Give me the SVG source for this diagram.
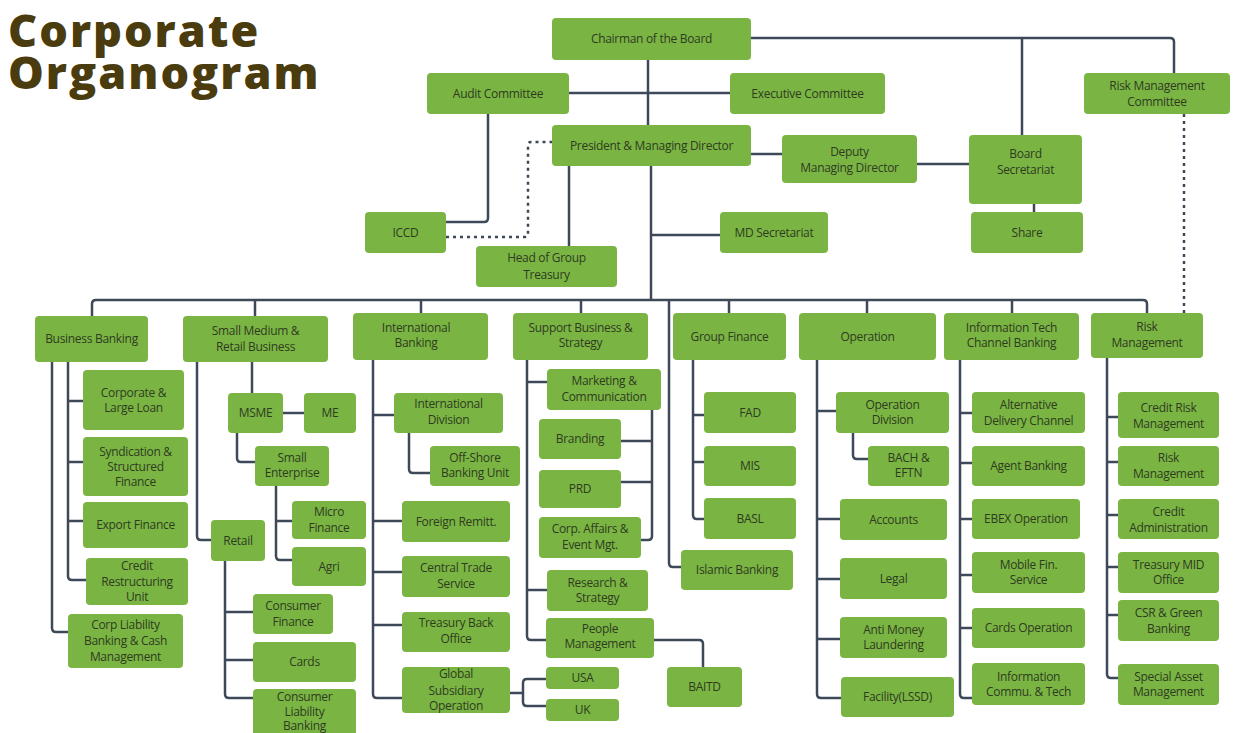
<svg xmlns="http://www.w3.org/2000/svg" width="1239" height="733" viewBox="0 0 1239 733">
<style>
.b{fill:#7ab544;}
.t{font-family:"Open Sans","Liberation Sans",sans-serif;font-size:12px;fill:#2f3b1f;text-anchor:middle;letter-spacing:-0.3px;}
.c{fill:none;stroke:#3d4858;stroke-width:2.5;stroke-linejoin:round;}
.d{fill:none;stroke:#3d4858;stroke-width:2.5;stroke-dasharray:3 4;}
.title{font-family:"Open Sans","Liberation Sans",sans-serif;font-weight:800;font-size:45px;fill:#4a3c0e;letter-spacing:2px;}
</style>
<rect width="1239" height="733" fill="#ffffff"/>
<g id="title">
<text class="title" x="8" y="47">Corporate</text>
<text class="title" x="8" y="89">Organogram</text>
</g>
<g id="connectors">
<path class="c" d="M648,60 V125"/>
<path class="c" d="M569,93 H730"/>
<path class="c" d="M751,38 H1170 q4,0 4,4 V73"/>
<path class="c" d="M1022,38 V135"/>
<path class="c" d="M751,154 H782"/>
<path class="c" d="M917,164 H969"/>
<path class="c" d="M1034,204 V212"/>
<path class="c" d="M488,114 V218 q0,4 -4,4 H446"/>
<path class="d" d="M446,237 H525 q3,0 3,-3 V145 q0,-3 3,-3 H552"/>
<path class="d" d="M1184,114 V313"/>
<path class="c" d="M569,166 V246"/>
<path class="c" d="M651,166 V300"/>
<path class="c" d="M651,235 H720"/>
<path class="c" d="M92,316 V304 q0,-4 4,-4 H1143 q4,0 4,4 V313"/>
<path class="c" d="M255,300 V316 M421,300 V313 M581,300 V313 M729,300 V313 M867,300 V313 M1012,300 V313"/>
<path class="c" d="M669,300 V563 q0,4 4,4 H681"/>
<path class="c" d="M52,362 V628 q0,4 4,4 H68"/>
<path class="c" d="M68,362 V576 q0,4 4,4 H86"/>
<path class="c" d="M68,401 H83 M68,462 H83 M68,521 H83"/>
<path class="c" d="M197,362 V536 q0,4 4,4 H211"/>
<path class="c" d="M252,362 V393"/>
<path class="c" d="M283,413 H304"/>
<path class="c" d="M237,433 V458 q0,4 4,4 H255"/>
<path class="c" d="M276,486 V556 q0,4 4,4 H292 M276,521 H292"/>
<path class="c" d="M225,561 V694 q0,4 4,4 H253 M225,612 H253 M225,660 H253"/>
<path class="c" d="M373,360 V694 q0,4 4,4 H402"/>
<path class="c" d="M373,415 H394 M373,521 H402 M373,572 H402 M373,625 H402"/>
<path class="c" d="M409,433 V469 q0,4 4,4 H430"/>
<path class="c" d="M510,693 H523 M546,679 H527 q-4,0 -4,4 V702 q0,4 4,4 H546"/>
<path class="c" d="M527,360 V636 q0,4 4,4 H546 M527,382 H547 M527,590 H547"/>
<path class="c" d="M652,410 V536 q0,4 -4,4 H641 M621,441 H652 M621,482 H652"/>
<path class="c" d="M654,640 H699 q4,0 4,4 V667"/>
<path class="c" d="M693,360 V515 q0,4 4,4 H704 M693,415 H704 M693,462 H704"/>
<path class="c" d="M817,360 V694 q0,4 4,4 H841 M817,411 H836 M817,519 H840 M817,579 H840 M817,639 H840"/>
<path class="c" d="M853,433 V455 q0,4 4,4 H868"/>
<path class="c" d="M960,360 V694 q0,4 4,4 H972 M960,413 H972 M960,463 H972 M960,519 H972 M960,575 H972 M960,628 H972"/>
<path class="c" d="M1107,358 V674 q0,4 4,4 H1118 M1107,417 H1118 M1107,462 H1118 M1107,515 H1118 M1107,567 H1118 M1107,615 H1118"/>
</g>
<g id="chairman"><rect class="b" x="552" y="18" width="199" height="42" rx="4"/><text class="t" x="651.5" y="43">Chairman of the Board</text></g>
<g id="audit"><rect class="b" x="427" y="73" width="142" height="41" rx="4"/><text class="t" x="498" y="97.5">Audit Committee</text></g>
<g id="executive"><rect class="b" x="730" y="73" width="155" height="41" rx="4"/><text class="t" x="807.5" y="97.5">Executive Committee</text></g>
<g id="rmc"><rect class="b" x="1084" y="73" width="146" height="41" rx="4"/><text class="t" x="1157" y="90">Risk Management</text><text class="t" x="1157" y="106">Committee</text></g>
<g id="president"><rect class="b" x="552" y="125" width="199" height="41" rx="4"/><text class="t" x="651.5" y="149.5">President &amp; Managing Director</text></g>
<g id="deputy"><rect class="b" x="782" y="135" width="135" height="48" rx="4"/><text class="t" x="849.5" y="156">Deputy</text><text class="t" x="849.5" y="172">Managing Director</text></g>
<g id="board"><rect class="b" x="969" y="135" width="113" height="69" rx="4"/><text class="t" x="1025.5" y="158">Board</text><text class="t" x="1025.5" y="174">Secretariat</text></g>
<g id="share"><rect class="b" x="971" y="212" width="112" height="41" rx="4"/><text class="t" x="1027" y="236.5">Share</text></g>
<g id="iccd"><rect class="b" x="365" y="212" width="81" height="41" rx="4"/><text class="t" x="405.5" y="236.5">ICCD</text></g>
<g id="mdsec"><rect class="b" x="720" y="212" width="108" height="41" rx="4"/><text class="t" x="774" y="236.5">MD Secretariat</text></g>
<g id="treasury"><rect class="b" x="476" y="246" width="141" height="41" rx="4"/><text class="t" x="546.5" y="262">Head of Group</text><text class="t" x="546.5" y="279">Treasury</text></g>
<g id="bb"><rect class="b" x="35" y="316" width="113" height="46" rx="4"/><text class="t" x="91.5" y="343">Business Banking</text></g>
<g id="smr"><rect class="b" x="183" y="316" width="145" height="46" rx="4"/><text class="t" x="255.5" y="335">Small Medium &amp;</text><text class="t" x="255.5" y="351">Retail Business</text></g>
<g id="ib"><rect class="b" x="353" y="313" width="135" height="47" rx="4"/><text class="t" x="416" y="332">International</text><text class="t" x="416" y="347">Banking</text></g>
<g id="sbs"><rect class="b" x="513" y="313" width="135" height="47" rx="4"/><text class="t" x="580.5" y="332">Support Business &amp;</text><text class="t" x="580.5" y="347">Strategy</text></g>
<g id="gf"><rect class="b" x="673" y="313" width="113" height="47" rx="4"/><text class="t" x="729.5" y="340.5">Group Finance</text></g>
<g id="ops"><rect class="b" x="799" y="313" width="137" height="47" rx="4"/><text class="t" x="867.5" y="340.5">Operation</text></g>
<g id="it"><rect class="b" x="944" y="313" width="135" height="47" rx="4"/><text class="t" x="1011.5" y="332">Information Tech</text><text class="t" x="1011.5" y="347">Channel Banking</text></g>
<g id="rm"><rect class="b" x="1091" y="313" width="112" height="45" rx="4"/><text class="t" x="1147" y="331">Risk</text><text class="t" x="1147" y="347">Management</text></g>
<g id="corploan"><rect class="b" x="83" y="370" width="101" height="60" rx="4"/><text class="t" x="133.5" y="396.5">Corporate &amp;</text><text class="t" x="133.5" y="412">Large Loan</text></g>
<g id="syndication"><rect class="b" x="83" y="437" width="105" height="59" rx="4"/><text class="t" x="135.5" y="456">Syndication &amp;</text><text class="t" x="135.5" y="471">Structured</text><text class="t" x="135.5" y="486">Finance</text></g>
<g id="export"><rect class="b" x="83" y="502" width="105" height="46" rx="4"/><text class="t" x="135.5" y="529">Export Finance</text></g>
<g id="restructuring"><rect class="b" x="86" y="558" width="102" height="47" rx="4"/><text class="t" x="137" y="570">Credit</text><text class="t" x="137" y="586">Restructuring</text><text class="t" x="137" y="601">Unit</text></g>
<g id="corpliability"><rect class="b" x="68" y="614" width="115" height="54" rx="4"/><text class="t" x="125.5" y="629">Corp Liability</text><text class="t" x="125.5" y="645">Banking &amp; Cash</text><text class="t" x="125.5" y="661">Management</text></g>
<g id="msme"><rect class="b" x="228" y="393" width="55" height="40" rx="4"/><text class="t" x="255.5" y="417">MSME</text></g>
<g id="me"><rect class="b" x="304" y="393" width="52" height="40" rx="4"/><text class="t" x="330" y="417">ME</text></g>
<g id="smallent"><rect class="b" x="255" y="446" width="74" height="40" rx="4"/><text class="t" x="292" y="462">Small</text><text class="t" x="292" y="477">Enterprise</text></g>
<g id="micro"><rect class="b" x="292" y="501" width="74" height="38" rx="4"/><text class="t" x="329" y="516">Micro</text><text class="t" x="329" y="532">Finance</text></g>
<g id="agri"><rect class="b" x="292" y="547" width="74" height="39" rx="4"/><text class="t" x="329" y="570.5">Agri</text></g>
<g id="retail"><rect class="b" x="211" y="520" width="54" height="41" rx="4"/><text class="t" x="238" y="544.5">Retail</text></g>
<g id="consumerfin"><rect class="b" x="253" y="594" width="80" height="40" rx="4"/><text class="t" x="293" y="610">Consumer</text><text class="t" x="293" y="626">Finance</text></g>
<g id="cards"><rect class="b" x="253" y="642" width="103" height="40" rx="4"/><text class="t" x="304.5" y="666">Cards</text></g>
<g id="clb"><rect class="b" x="253" y="689" width="103" height="52" rx="4"/><text class="t" x="304.5" y="701">Consumer</text><text class="t" x="304.5" y="716">Liability</text><text class="t" x="304.5" y="730">Banking</text></g>
<g id="intldiv"><rect class="b" x="394" y="393" width="109" height="40" rx="4"/><text class="t" x="448.5" y="408">International</text><text class="t" x="448.5" y="424">Division</text></g>
<g id="offshore"><rect class="b" x="430" y="446" width="90" height="40" rx="4"/><text class="t" x="475" y="462">Off-Shore</text><text class="t" x="475" y="477">Banking Unit</text></g>
<g id="foreign"><rect class="b" x="402" y="501" width="108" height="41" rx="4"/><text class="t" x="456" y="525.5">Foreign Remitt.</text></g>
<g id="cts"><rect class="b" x="402" y="556" width="108" height="41" rx="4"/><text class="t" x="456" y="572">Central Trade</text><text class="t" x="456" y="588">Service</text></g>
<g id="tbo"><rect class="b" x="402" y="612" width="108" height="40" rx="4"/><text class="t" x="456" y="627">Treasury Back</text><text class="t" x="456" y="643">Office</text></g>
<g id="gso"><rect class="b" x="402" y="667" width="108" height="46" rx="4"/><text class="t" x="456" y="678">Global</text><text class="t" x="456" y="695">Subsidiary</text><text class="t" x="456" y="710">Operation</text></g>
<g id="usa"><rect class="b" x="546" y="667" width="73" height="22" rx="4"/><text class="t" x="582.5" y="682">USA</text></g>
<g id="uk"><rect class="b" x="546" y="699" width="73" height="22" rx="4"/><text class="t" x="582.5" y="714">UK</text></g>
<g id="marketing"><rect class="b" x="547" y="369" width="114" height="41" rx="4"/><text class="t" x="604" y="385">Marketing &amp;</text><text class="t" x="604" y="401">Communication</text></g>
<g id="branding"><rect class="b" x="539" y="419" width="82" height="40" rx="4"/><text class="t" x="580" y="443">Branding</text></g>
<g id="prd"><rect class="b" x="539" y="470" width="82" height="38" rx="4"/><text class="t" x="580" y="493">PRD</text></g>
<g id="corpaffairs"><rect class="b" x="539" y="517" width="102" height="41" rx="4"/><text class="t" x="590" y="533">Corp. Affairs &amp;</text><text class="t" x="590" y="549">Event Mgt.</text></g>
<g id="research"><rect class="b" x="547" y="570" width="101" height="41" rx="4"/><text class="t" x="597.5" y="587">Research &amp;</text><text class="t" x="597.5" y="602">Strategy</text></g>
<g id="people"><rect class="b" x="546" y="618" width="108" height="40" rx="4"/><text class="t" x="600" y="633">People</text><text class="t" x="600" y="648">Management</text></g>
<g id="baitd"><rect class="b" x="667" y="667" width="75" height="40" rx="4"/><text class="t" x="704.5" y="691">BAITD</text></g>
<g id="fad"><rect class="b" x="704" y="392" width="92" height="41" rx="4"/><text class="t" x="750" y="416.5">FAD</text></g>
<g id="mis"><rect class="b" x="704" y="446" width="92" height="40" rx="4"/><text class="t" x="750" y="470">MIS</text></g>
<g id="basl"><rect class="b" x="704" y="498" width="92" height="41" rx="4"/><text class="t" x="750" y="522.5">BASL</text></g>
<g id="islamic"><rect class="b" x="681" y="550" width="112" height="40" rx="4"/><text class="t" x="737" y="574">Islamic Banking</text></g>
<g id="opdiv"><rect class="b" x="836" y="392" width="113" height="41" rx="4"/><text class="t" x="892.5" y="409">Operation</text><text class="t" x="892.5" y="424">Division</text></g>
<g id="bach"><rect class="b" x="868" y="446" width="81" height="40" rx="4"/><text class="t" x="908.5" y="462">BACH &amp;</text><text class="t" x="908.5" y="477">EFTN</text></g>
<g id="accounts"><rect class="b" x="840" y="499" width="107" height="41" rx="4"/><text class="t" x="893.5" y="523.5">Accounts</text></g>
<g id="legal"><rect class="b" x="840" y="558" width="107" height="41" rx="4"/><text class="t" x="893.5" y="582.5">Legal</text></g>
<g id="aml"><rect class="b" x="840" y="617" width="107" height="41" rx="4"/><text class="t" x="893.5" y="634">Anti Money</text><text class="t" x="893.5" y="649">Laundering</text></g>
<g id="facility"><rect class="b" x="841" y="677" width="113" height="40" rx="4"/><text class="t" x="897.5" y="701">Facility(LSSD)</text></g>
<g id="adc"><rect class="b" x="972" y="392" width="113" height="41" rx="4"/><text class="t" x="1028.5" y="409">Alternative</text><text class="t" x="1028.5" y="425">Delivery Channel</text></g>
<g id="agent"><rect class="b" x="972" y="446" width="113" height="40" rx="4"/><text class="t" x="1028.5" y="470">Agent Banking</text></g>
<g id="ebex"><rect class="b" x="972" y="499" width="108" height="40" rx="4"/><text class="t" x="1026" y="523">EBEX Operation</text></g>
<g id="mobile"><rect class="b" x="972" y="552" width="113" height="41" rx="4"/><text class="t" x="1028.5" y="569">Mobile Fin.</text><text class="t" x="1028.5" y="584">Service</text></g>
<g id="cardsop"><rect class="b" x="972" y="608" width="113" height="40" rx="4"/><text class="t" x="1028.5" y="632">Cards Operation</text></g>
<g id="ict"><rect class="b" x="972" y="663" width="113" height="42" rx="4"/><text class="t" x="1028.5" y="681">Information</text><text class="t" x="1028.5" y="696">Commu. &amp; Tech</text></g>
<g id="crm"><rect class="b" x="1118" y="392" width="101" height="46" rx="4"/><text class="t" x="1168.5" y="412">Credit Risk</text><text class="t" x="1168.5" y="428">Management</text></g>
<g id="rm2"><rect class="b" x="1118" y="446" width="101" height="40" rx="4"/><text class="t" x="1168.5" y="462">Risk</text><text class="t" x="1168.5" y="478">Management</text></g>
<g id="cadmin"><rect class="b" x="1118" y="499" width="101" height="40" rx="4"/><text class="t" x="1168.5" y="516">Credit</text><text class="t" x="1168.5" y="532">Administration</text></g>
<g id="tmo"><rect class="b" x="1118" y="552" width="101" height="41" rx="4"/><text class="t" x="1168.5" y="569">Treasury MID</text><text class="t" x="1168.5" y="584">Office</text></g>
<g id="csr"><rect class="b" x="1118" y="600" width="101" height="41" rx="4"/><text class="t" x="1168.5" y="617">CSR &amp; Green</text><text class="t" x="1168.5" y="633">Banking</text></g>
<g id="sam"><rect class="b" x="1118" y="664" width="101" height="41" rx="4"/><text class="t" x="1168.5" y="681">Special Asset</text><text class="t" x="1168.5" y="696">Management</text></g>
</svg>
